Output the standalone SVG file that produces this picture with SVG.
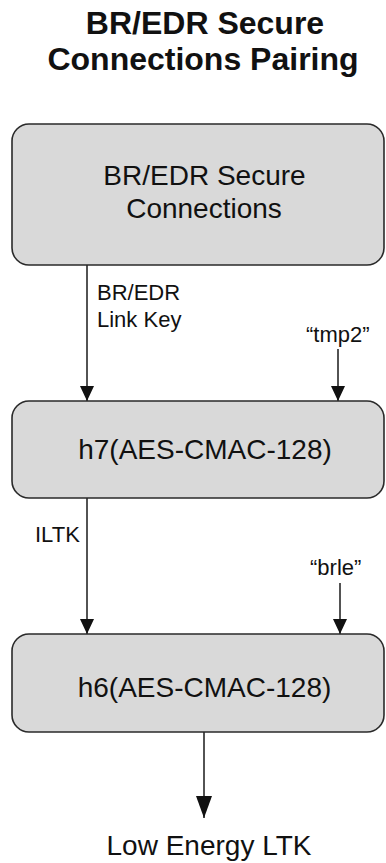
<svg xmlns="http://www.w3.org/2000/svg" width="386" height="863" viewBox="0 0 386 863">
<style>
.bg{fill:#ffffff}
.box{fill:#d9d9d9;stroke:#2a2a2a;stroke-width:1.6}
.t{font-family:"Liberation Sans",Arial,sans-serif;fill:#111}
.title{font-size:32px;font-weight:bold;text-anchor:middle}
.bt{font-size:28px;text-anchor:middle}
.lab{font-size:22px}
.c{stroke:#1a1a1a;stroke-width:1.5;fill:none}
</style>
<defs>
<marker id="ah" markerUnits="userSpaceOnUse" markerWidth="15" markerHeight="14" refX="15" refY="7" orient="auto">
<path d="M0,0 L15,7 L0,14 z" fill="#111"/>
</marker>
<marker id="ahb" markerUnits="userSpaceOnUse" markerWidth="22" markerHeight="16" refX="22" refY="8" orient="auto">
<path d="M0,0 L22,8 L0,16 z" fill="#111"/>
</marker>
</defs>
<rect class="bg" x="0" y="0" width="386" height="863"/>
<g id="title">
<text class="t title" x="205" y="33.5">BR/EDR Secure</text>
<text class="t title" x="203" y="69.5">Connections Pairing</text>
</g>
<g id="connectors">
<line class="c" x1="87" y1="265" x2="87" y2="401" marker-end="url(#ah)"/>
<line class="c" x1="338" y1="349" x2="338" y2="401" marker-end="url(#ah)"/>
<line class="c" x1="87" y1="498" x2="87" y2="634" marker-end="url(#ah)"/>
<line class="c" x1="340" y1="583" x2="340" y2="634" marker-end="url(#ah)"/>
<line class="c" x1="204" y1="732" x2="204" y2="818" marker-end="url(#ahb)"/>
<text class="t lab" x="97" y="300">BR/EDR</text>
<text class="t lab" x="97" y="327">Link Key</text>
<text class="t lab" x="306" y="342">“tmp2”</text>
<text class="t lab" x="35" y="542">ILTK</text>
<text class="t lab" x="310" y="575">“brle”</text>
</g>
<g id="node-bredr-sc">
<rect class="box" x="12" y="124" width="372" height="141" rx="17"/>
<text class="t bt" x="204.5" y="185">BR/EDR Secure</text>
<text class="t bt" x="204" y="218">Connections</text>
</g>
<g id="node-h7">
<rect class="box" x="12" y="401" width="372" height="97" rx="17"/>
<text class="t bt" x="205" y="458.5">h7(AES-CMAC-128)</text>
</g>
<g id="node-h6">
<rect class="box" x="12" y="634" width="372" height="98" rx="17"/>
<text class="t bt" x="204.5" y="697">h6(AES-CMAC-128)</text>
</g>
<g id="output">
<text class="t bt" x="209" y="855">Low Energy LTK</text>
</g>
</svg>
